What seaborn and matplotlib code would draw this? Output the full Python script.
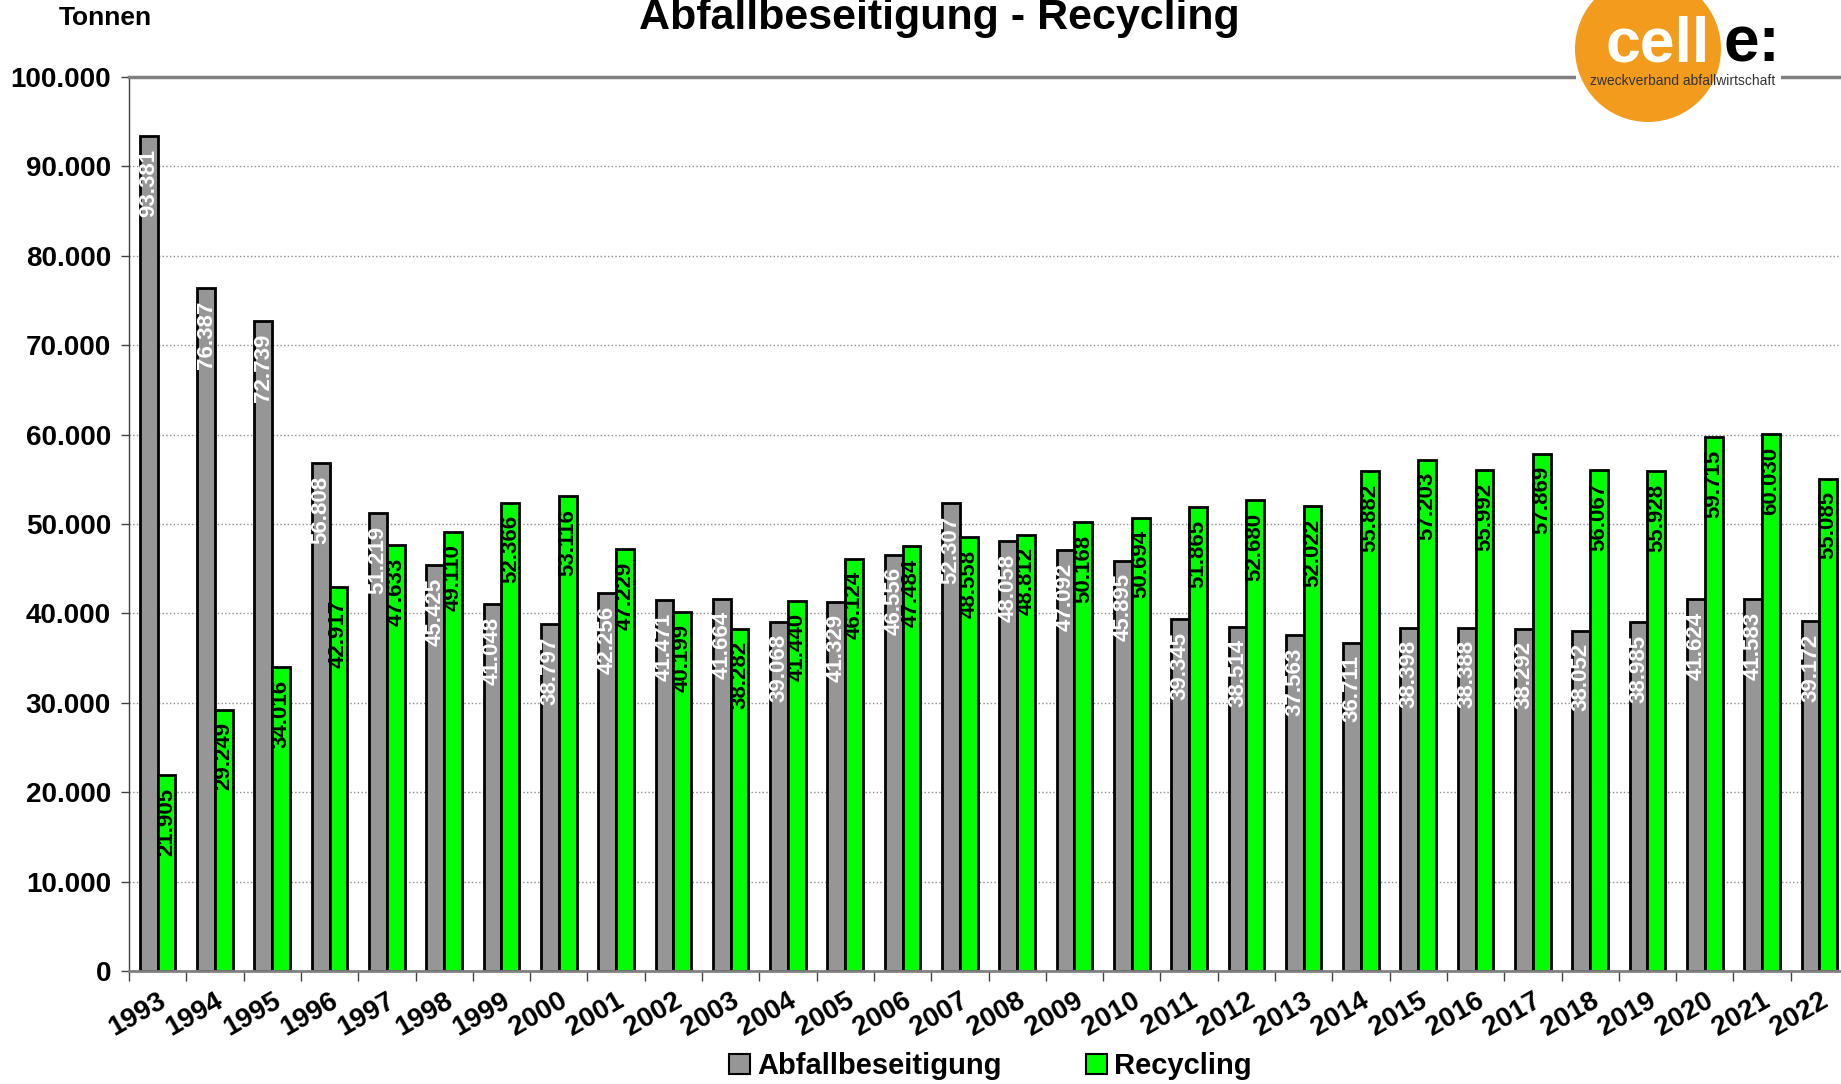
import matplotlib
matplotlib.use("Agg")
import numpy as np
import pandas as pd
import seaborn as sns
import matplotlib.pyplot as plt
from matplotlib.patches import Circle, Rectangle, Patch
from matplotlib.ticker import FuncFormatter, FixedLocator

# Daten (Tonnen pro Jahr)
jahre = [str(j) for j in range(1993, 2023)]
abfallbeseitigung = [93381, 76387, 72739, 56808, 51219, 45425, 41048, 38797, 42256, 41471,
                     41664, 39068, 41329, 46556, 52307, 48058, 47092, 45895, 39345, 38514,
                     37563, 36711, 38398, 38388, 38292, 38052, 38985, 41624, 41583, 39172]
recycling = [21905, 29249, 34016, 42917, 47633, 49110, 52366, 53116, 47229, 40199,
             38282, 41440, 46124, 47484, 48558, 48812, 50168, 50694, 51865, 52680,
             52022, 55882, 57203, 55992, 57869, 56067, 55928, 59715, 60030, 55085]
serien = ["Abfallbeseitigung", "Recycling"]
farben = {"Abfallbeseitigung": "#969696", "Recycling": "#00ff00"}
y_ticks = list(range(0, 100001, 10000))

df = pd.DataFrame({
    "Jahr": jahre * 2,
    "Tonnen": abfallbeseitigung + recycling,
    "Art": [serien[0]] * len(jahre) + [serien[1]] * len(jahre),
})


def punkt(v, pos=None):
    return f"{int(round(v)):,}".replace(",", ".")


sns.set_style("white")
plt.rcParams["font.family"] = ["Liberation Sans", "DejaVu Sans"]
plt.rcParams["text.color"] = "black"

W, H = 1841, 1084
fig = plt.figure(figsize=(W / 100, H / 100), dpi=100)
ax = fig.add_axes([129 / W, 1 - 971 / H, (1848 - 129) / W, (971 - 77) / H])

sns.barplot(data=df, x="Jahr", y="Tonnen", hue="Art", hue_order=serien,
            palette=farben, saturation=1, width=0.62, errorbar=None,
            edgecolor="black", linewidth=2, ax=ax, legend=False)

# Werte in den Balken
for cont, tc in zip(ax.containers, ["white", "black"]):
    for bar in cont:
        h = bar.get_height()
        ax.annotate(punkt(h), (bar.get_x() + bar.get_width() / 2, h),
                    xytext=(0, -9), textcoords="offset points",
                    rotation=90, ha="center", va="top", color=tc,
                    fontsize=16, fontweight="bold", zorder=5)

ax.set_xlim(-0.5, len(jahre) - 0.5)
ax.set_ylim(0, 100000)
ax.set_yticks(y_ticks)
ax.yaxis.set_major_formatter(FuncFormatter(punkt))
ax.set_xlabel("")
ax.set_ylabel("")

ax.xaxis.set_minor_locator(FixedLocator(np.arange(-0.5, len(jahre), 1)))
ax.set_xticks(range(len(jahre)))
ax.set_xticklabels(jahre, rotation=30, ha="right", rotation_mode="anchor",
                   fontsize=20, fontweight="bold")
ax.tick_params(axis="x", which="major", length=0, pad=12, labelcolor="black")
ax.tick_params(axis="x", which="minor", length=7, width=1, color="#404040",
               direction="out", bottom=True)
ax.tick_params(axis="y", length=6, width=1, color="#404040", pad=7, left=True,
               labelcolor="black")
for lab in ax.get_yticklabels():
    lab.set_fontsize(20)
    lab.set_fontweight("bold")

ax.yaxis.grid(True, linestyle=":", color="#8c8c8c", linewidth=1)
ax.set_axisbelow(True)
ax.spines["right"].set_visible(False)
ax.spines["top"].set_color("#808080")
ax.spines["top"].set_linewidth(2.5)
ax.spines["bottom"].set_color("#808080")
ax.spines["bottom"].set_linewidth(2)
ax.spines["left"].set_color("#404040")
ax.spines["left"].set_linewidth(1)

# Titel und Einheit
fig.text(939 / W, 1 - 29 / H, "Abfallbeseitigung - Recycling", ha="center",
         va="baseline", fontsize=31, fontweight="bold")
fig.text(59 / W, 1 - 18 / H, "Tonnen", ha="left", va="center",
         fontsize=19, fontweight="bold")

# Legende
handles = [Patch(facecolor=farben[s], edgecolor="black", linewidth=1.5) for s in serien]
fig.legend(handles, serien, loc="center", bbox_to_anchor=(0.538, 1 - 1066 / H),
           ncol=2, frameon=False, handlelength=0.7, handleheight=0.7,
           handletextpad=0.25, columnspacing=2.9,
           prop={"size": 21, "weight": "bold"})

# Logo
tr = fig.dpi_scale_trans
fig.add_artist(Rectangle((15.76, (H - 95) / 100), 2.05, 0.95, transform=tr,
                         facecolor="white", edgecolor="none", zorder=5))
fig.add_artist(Circle((16.48, (H - 49) / 100), 0.73, transform=tr,
                      facecolor="#f29b1c", edgecolor="none", zorder=6))
fig.text(1605 / W, 1 - 62 / H, "cell", color="white", fontsize=45,
         fontweight="bold", va="baseline", ha="left", zorder=7)
fig.text(1724 / W, 1 - 62 / H, "e:", color="black", fontsize=46,
         fontweight="bold", va="baseline", ha="left", zorder=7)
fig.text(1683 / W, 1 - 85 / H, "zweckverband abfallwirtschaft", color="#333333",
         fontsize=10, va="baseline", ha="center", zorder=7)

fig.savefig("out.png", dpi=100)
